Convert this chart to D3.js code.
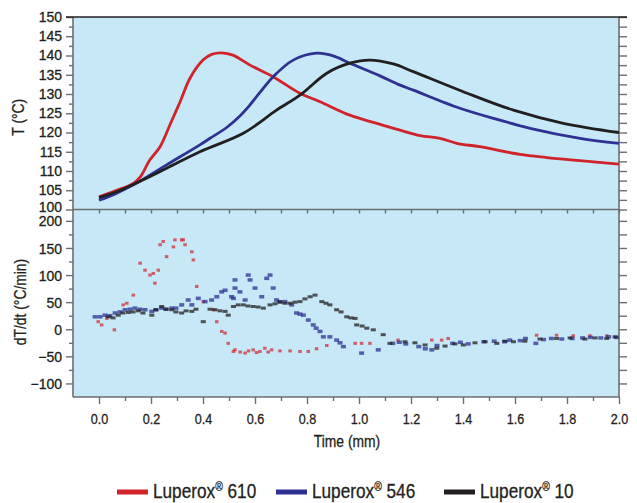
<!DOCTYPE html>
<html>
<head>
<meta charset="utf-8">
<script src="https://cdn.jsdelivr.net/npm/d3@7/dist/d3.min.js"></script>
<style>
  html, body { margin: 0; padding: 0; background: #ffffff; }
  svg { display: block; }
  text { font-family: "Liberation Sans", Arial, sans-serif; stroke: #231f20; stroke-width: 0.3px; }
</style>
</head>
<body>
<svg id="chart" width="637" height="503"></svg>
<script>
// ---------- Data ----------
const seriesNames = ["Luperox® 610", "Luperox® 546", "Luperox® 10"];
const seriesColors = ["#d1232a", "#2e3192", "#231f20"];

// Temperature curves: time (min) and T (°C)
const timeRed  = [0, 0.06, 0.132, 0.158, 0.196, 0.235, 0.273, 0.312, 0.35, 0.4, 0.433, 0.472, 0.515, 0.581, 0.669, 0.773, 0.85, 0.965, 1.081, 1.158, 1.235, 1.312, 1.376, 1.465, 1.619, 1.722, 1.85, 2.0];
const tempRed  = [103.3, 104.8, 106.8, 108.4, 112.9, 116.3, 122.0, 128.0, 134.1, 138.8, 140.3, 140.7, 140.1, 137.5, 134.5, 130.2, 128.0, 124.5, 122.1, 120.6, 119.2, 118.5, 117.2, 116.3, 114.3, 113.5, 112.7, 111.8];

const timeBlue = [0, 0.06, 0.132, 0.26, 0.388, 0.427, 0.491, 0.542, 0.581, 0.619, 0.67, 0.747, 0.837, 0.901, 0.965, 1.081, 1.158, 1.209, 1.388, 1.542, 1.658, 1.85, 2.0];
const tempBlue = [102.4, 104.0, 106.4, 111.6, 116.8, 118.5, 121.3, 124.3, 127.2, 130.4, 134.5, 138.8, 140.6, 139.9, 138.0, 134.7, 132.3, 131.0, 126.3, 123.2, 121.1, 118.5, 117.2];

const timeBlack = [0, 0.06, 0.132, 0.26, 0.388, 0.555, 0.683, 0.773, 0.876, 0.965, 1.042, 1.132, 1.209, 1.401, 1.594, 1.786, 2.0];
const tempBlack = [103.1, 104.4, 106.5, 110.7, 115.0, 119.8, 125.8, 129.7, 135.4, 138.0, 138.8, 137.8, 135.8, 130.6, 125.8, 122.4, 120.0];

// Rate of temperature rise dT/dt (°C/min): scatter points
const rateTimeRed = [-0.003, 0.01, 0.03, 0.059, 0.093, 0.107, 0.132, 0.158, 0.177, 0.196, 0.209, 0.215, 0.228, 0.235, 0.247, 0.26, 0.286, 0.292, 0.318, 0.324, 0.331, 0.357, 0.363, 0.376, 0.401, 0.44, 0.453, 0.472, 0.485, 0.497, 0.517, 0.523, 0.543, 0.562, 0.575, 0.593, 0.606, 0.619, 0.638, 0.651, 0.664, 0.696, 0.735, 0.773, 0.805, 0.837, 0.876, 0.985, 1.01, 1.042, 1.15, 1.28, 1.318, 1.343, 1.683, 1.76, 1.824, 1.888, 1.953];
const rateRed     = [14, 8, 20, -1, 45, 48, 63, 122, 109, 100, 103, 85, 109, 156, 162, 134, 152, 165, 165, 165, 156, 143, 128, 79, 51, 36, 14, -4, -7, -26, -41, -38, -42, -44, -40, -38, -43, -41, -35, -42, -38, -40, -40, -41, -41, -36, -30, -26, -26, -26, -20, -20, -20, -17, -11, -11, -12, -12, -12];

const rateTimeBlue = [-0.015, 0.004, 0.023, 0.042, 0.062, 0.081, 0.1, 0.119, 0.138, 0.158, 0.177, 0.203, 0.219, 0.241, 0.258, 0.28, 0.296, 0.318, 0.343, 0.357, 0.382, 0.408, 0.433, 0.453, 0.472, 0.485, 0.51, 0.517, 0.523, 0.523, 0.542, 0.562, 0.574, 0.581, 0.6, 0.626, 0.645, 0.658, 0.67, 0.683, 0.696, 0.715, 0.741, 0.76, 0.773, 0.786, 0.805, 0.824, 0.835, 0.85, 0.863, 0.888, 0.914, 0.927, 0.94, 1.01, 1.074, 1.13, 1.155, 1.18, 1.23, 1.255, 1.28, 1.3, 1.36, 1.39, 1.42, 1.48, 1.52, 1.56, 1.58, 1.62, 1.64, 1.68, 1.71, 1.74, 1.78, 1.82, 1.86, 1.89, 1.93, 1.96, 1.99];
const rateBlue     = [23, 23, 26, 25, 30, 32, 36, 37, 39, 37, 36, 33, 36, 39, 37, 39, 39, 45, 54, 45, 57, 51, 54, 60, 69, 72, 60, 57, 91, 76, 69, 54, 100, 91, 76, 60, 94, 100, 76, 54, 50, 51, 45, 30, 28, 26, 17, 8, 2, -4, -14, -14, -20, -25, -32, -44, -38, -26, -24, -27, -32, -36, -38, -30, -26, -24, -27, -23, -22, -23, -20, -21, -17, -26, -19, -17, -18, -17, -16, -15, -16, -14, -15];

const rateTimeBlack = [0.036, 0.054, 0.074, 0.092, 0.113, 0.131, 0.151, 0.169, 0.203, 0.219, 0.241, 0.258, 0.28, 0.296, 0.318, 0.335, 0.357, 0.373, 0.401, 0.427, 0.446, 0.465, 0.485, 0.497, 0.517, 0.535, 0.555, 0.573, 0.593, 0.612, 0.632, 0.658, 0.677, 0.696, 0.715, 0.735, 0.754, 0.773, 0.792, 0.812, 0.831, 0.857, 0.873, 0.888, 0.914, 0.931, 0.953, 0.969, 0.985, 0.991, 1.012, 1.03, 1.055, 1.093, 1.119, 1.177, 1.215, 1.254, 1.299, 1.331, 1.369, 1.401, 1.446, 1.485, 1.53, 1.562, 1.594, 1.638, 1.696, 1.76, 1.812, 1.869, 1.908, 1.953, 1.985];
const rateBlack     = [23, 21, 26, 30, 31, 32, 34, 30, 26, 36, 42, 37, 36, 32, 30, 34, 33, 37, 14, 37, 36, 34, 33, 26, 42, 45, 45, 43, 42, 41, 39, 45, 47, 51, 48, 48, 50, 51, 56, 60, 63, 51, 48, 45, 36, 32, 23, 21, 20, 8, 6, 2, -1, -10, -26, -23, -25, -29, -35, -31, -27, -29, -25, -23, -26, -22, -23, -22, -18, -17, -16, -18, -16, -17, -14];

const tempTicks = [100, 105, 110, 115, 120, 125, 130, 135, 140, 145, 150];
const rateTicks = [-100, -50, 0, 50, 100, 150, 200];
const timeTicks = [0.0, 0.2, 0.4, 0.6, 0.8, 1.0, 1.2, 1.4, 1.6, 1.8, 2.0];

// ---------- Layout ----------
const svg = d3.select("#chart");
const L = 73, R = 619, T1 = 17, B1 = 209.5, B2 = 397;
const axisColor = "#6d6e71";
const ink = "#231f20";
const bg = "#c6e8f7";
const NARROW = 0.84;

const x = d3.scaleLinear().domain([-0.1, 2.0]).range([L, R]);
const yT = d3.scaleLinear().domain([100, 150]).range([B1, T1]);
const yR = d3.scaleLinear().domain([-125, 221]).range([B2, B1]);

svg.append("rect").attr("x", L).attr("y", T1).attr("width", R - L).attr("height", B2 - T1).attr("fill", bg);

function styleAxis(g) {
  g.select(".domain").remove();
  g.selectAll(".tick line").attr("stroke", axisColor).attr("stroke-width", 1.4);
  g.selectAll("text").attr("fill", ink);
}

// ---- top panel axes ----
svg.append("g").attr("transform", `translate(${L},0)`)
  .call(d3.axisLeft(yT).tickValues(tempTicks).tickSize(7).tickPadding(4).tickFormat(d3.format("d")))
  .call(styleAxis)
  .call(g => g.selectAll("text").attr("font-size", 14)
    .attr("dy", d => d === 100 ? "0.12em" : "0.32em"));
svg.append("g").attr("transform", `translate(${L},0)`)
  .call(d3.axisLeft(yT).tickValues(d3.range(102.5, 150, 5)).tickSize(4).tickFormat(""))
  .call(styleAxis);
svg.append("g").attr("transform", `translate(${R},0)`)
  .call(d3.axisRight(yT).tickValues(d3.range(100, 150.1, 2.5)).tickSize(8).tickFormat(""))
  .call(styleAxis);

// ---- bottom panel axes ----
svg.append("g").attr("transform", `translate(${L},0)`)
  .call(d3.axisLeft(yR).tickValues(rateTicks).tickSize(7).tickPadding(4).tickFormat(d3.format("d")))
  .call(styleAxis)
  .call(g => g.selectAll("text").attr("font-size", 14).attr("dy", "0.36em"));
svg.append("g").attr("transform", `translate(${L},0)`)
  .call(d3.axisLeft(yR).tickValues(d3.range(-75, 201, 50)).tickSize(4).tickFormat(""))
  .call(styleAxis);
svg.append("g").attr("transform", `translate(${R},0)`)
  .call(d3.axisRight(yR).tickValues(d3.range(-100, 200.1, 25)).tickSize(8).tickFormat(""))
  .call(styleAxis);

// separator ticks
svg.append("g").attr("transform", `translate(0,${B1})`)
  .call(d3.axisBottom(x).tickValues(d3.range(0, 20.5, 1).map(d => d / 10)).tickSize(4).tickFormat(""))
  .call(styleAxis);
// bottom x axis
svg.append("g").attr("transform", `translate(0,${B2})`)
  .call(d3.axisBottom(x).tickValues(timeTicks).tickSize(7).tickPadding(9).tickFormat(d3.format(".1f")))
  .call(styleAxis)
  .call(g => g.selectAll("text").attr("font-size", 15).attr("transform", `scale(${NARROW},1)`));
svg.append("g").attr("transform", `translate(0,${B2})`)
  .call(d3.axisBottom(x).tickValues(d3.range(1, 20, 2).map(d => d / 10)).tickSize(4).tickFormat(""))
  .call(styleAxis);

// frame lines
svg.append("line").attr("x1", L).attr("x2", L).attr("y1", T1).attr("y2", B2).attr("stroke", axisColor).attr("stroke-width", 1.6);
svg.append("line").attr("x1", R).attr("x2", R).attr("y1", T1).attr("y2", B2).attr("stroke", axisColor).attr("stroke-width", 1.6);
svg.append("line").attr("x1", L).attr("x2", R).attr("y1", B1).attr("y2", B1).attr("stroke", axisColor).attr("stroke-width", 1.6);
svg.append("line").attr("x1", L).attr("x2", R).attr("y1", B2).attr("y2", B2).attr("stroke", axisColor).attr("stroke-width", 1.6);
svg.append("line").attr("x1", L - 7).attr("x2", R + 8).attr("y1", T1).attr("y2", T1).attr("stroke", ink).attr("stroke-width", 1.6);

// ---- scatter (bottom) ----
const rateSets = [
  {t: rateTimeRed, v: rateRed, c: seriesColors[0], w: 3.5, h: 3, o: 0.7},
  {t: rateTimeBlue, v: rateBlue, c: seriesColors[1], w: 5, h: 3.5, o: 0.75},
  {t: rateTimeBlack, v: rateBlack, c: seriesColors[2], w: 5, h: 3, o: 0.75}
];
const gS = svg.append("g");
rateSets.forEach(s => {
  gS.append("g").selectAll("rect").data(s.t.map((t, i) => [t, s.v[i]])).join("rect")
    .attr("x", d => x(d[0]) - s.w / 2).attr("y", d => yR(d[1]) - s.h / 2)
    .attr("width", s.w).attr("height", s.h)
    .attr("fill", s.c).attr("opacity", s.o);
});

// ---- temperature lines (top) ----
const line = d3.line().x(d => x(d[0])).y(d => yT(d[1])).curve(d3.curveCatmullRom.alpha(0.5));
const tempSets = [
  [timeRed, tempRed, seriesColors[0]],
  [timeBlue, tempBlue, seriesColors[1]],
  [timeBlack, tempBlack, seriesColors[2]]
];
tempSets.forEach(([ts, vs, c]) => {
  svg.append("path").datum(ts.map((t, i) => [t, vs[i]]))
    .attr("d", line).attr("fill", "none").attr("stroke", c).attr("stroke-width", 2.8)
    .attr("stroke-linejoin", "round");
});

// ---- axis titles ----
svg.append("g").attr("transform", `translate(24,${(T1 + B1) / 2 + 4}) rotate(-90) scale(${NARROW},1)`)
  .append("text").attr("font-size", 16.5).attr("fill", ink).attr("text-anchor", "middle").text("T (°C)");
svg.append("g").attr("transform", `translate(26,302) rotate(-90) scale(${NARROW},1)`)
  .append("text").attr("font-size", 16.5).attr("fill", ink).attr("text-anchor", "middle").text("dT/dt (°C/min)");
svg.append("g").attr("transform", `translate(347,447) scale(${NARROW},1)`)
  .append("text").attr("font-size", 16.5).attr("fill", ink).attr("text-anchor", "middle").text("Time (mm)");

// ---- legend ----
const legX = [117, 276, 444];
seriesNames.forEach((n, i) => {
  svg.append("rect").attr("x", legX[i]).attr("y", 489.5).attr("width", 31).attr("height", 5).attr("fill", seriesColors[i]);
  const parts = n.split("®");
  const t = svg.append("g").attr("transform", `translate(${legX[i] + 36},498) scale(0.86,1)`)
    .append("text").attr("font-size", 20).attr("fill", ink);
  t.append("tspan").text(parts[0]);
  t.append("tspan").attr("font-size", 12).attr("dy", -7).text("®");
  t.append("tspan").attr("dy", 7).text(parts[1]);
});
</script>
</body>
</html>
